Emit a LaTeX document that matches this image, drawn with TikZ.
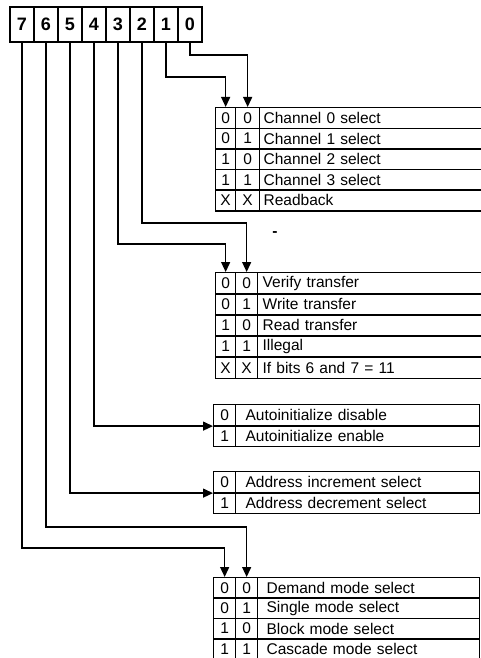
\documentclass[tikz,border=0pt]{standalone}
\usepackage{fontspec}
\setmainfont{Liberation Sans}
\usetikzlibrary{arrows.meta}
\begin{document}
\begin{tikzpicture}[x=1pt, y=-1pt, line width=1.3pt,
  bitcell/.style={draw, minimum width=24pt, minimum height=35pt, inner sep=0pt, outer sep=0pt,
                  font=\fontsize{18}{18}\selectfont\bfseries},
  selcell/.style={draw, anchor=north west, minimum height=20.8pt, inner sep=0pt,
                  font=\fontsize{15.5}{16}\selectfont},
  desccell/.style={selcell, inner xsep=#1, align=left},
  sel/.style={-{Triangle[length=10pt, width=9pt]}}]
  \useasboundingbox (0,0) rectangle (481,658);
  \clip (0,0) rectangle (481,658);

  % mode register bits
  \foreach \bitno [count=\k from 0] in {7,...,0} {
    \node[bitcell] (b\bitno) at ({22+24*\k}, 24.5) {\bitno};
  }

  % bits 0 and 1
  \foreach \i/\sa/\sb/\txt in {1/0/0/{Channel 0 select}, 2/0/1/{Channel 1 select},
                               3/1/0/{Channel 2 select}, 4/1/1/{Channel 3 select},
                               5/X/X/{Readback}} {
    \node[selcell, minimum width=20pt] (t1-\i-a) at (215, {107+20.6*(\i-1)}) {\sa};
    \node[selcell, minimum width=24pt] (t1-\i-b) at (235, {107+20.6*(\i-1)}) {\sb};
    \node[desccell=4pt, text width=232pt] (t1-\i-c) at (259, {107+20.6*(\i-1)}) {\txt};
  }

  % bits 2 and 3
  \foreach \i/\sa/\sb/\txt in {1/0/0/{Verify transfer}, 2/0/1/{Write transfer},
                               3/1/0/{Read transfer}, 4/1/1/{Illegal},
                               5/X/X/{If bits 6 and 7 = 11}} {
    \node[selcell, minimum width=20pt] (t2-\i-a) at (215, {272+21.2*(\i-1)}) {\sa};
    \node[selcell, minimum width=22pt] (t2-\i-b) at (235, {272+21.2*(\i-1)}) {\sb};
    \node[desccell=5pt, text width=230pt] (t2-\i-c) at (257, {272+21.2*(\i-1)}) {\txt};
  }
  \node[font=\fontsize{15.5}{16}\selectfont\bfseries] (dash) at (275,234) {-};

  % bit 4
  \foreach \i/\sa/\txt in {1/0/{Autoinitialize disable}, 2/1/{Autoinitialize enable}} {
    \node[selcell, minimum width=22pt] (t3-\i-a) at (213, {404+21.3*(\i-1)}) {\sa};
    \node[desccell=10pt, text width=224pt] (t3-\i-c) at (235, {404+21.3*(\i-1)}) {\txt};
  }

  % bit 5
  \foreach \i/\sa/\txt in {1/0/{Address increment select}, 2/1/{Address decrement select}} {
    \node[selcell, minimum width=22pt] (t4-\i-a) at (213, {471+21.3*(\i-1)}) {\sa};
    \node[desccell=10pt, text width=224pt] (t4-\i-c) at (235, {471+21.3*(\i-1)}) {\txt};
  }

  % bits 6 and 7
  \foreach \i/\sa/\sb/\txt in {1/0/0/{Demand mode select}, 2/0/1/{Single mode select},
                               3/1/0/{Block mode select}, 4/1/1/{Cascade mode select}} {
    \node[selcell, minimum width=22pt] (t5-\i-a) at (213, {577+20.3*(\i-1)}) {\sa};
    \node[selcell, minimum width=22pt] (t5-\i-b) at (235, {577+20.3*(\i-1)}) {\sb};
    \node[desccell=9pt, text width=204pt] (t5-\i-c) at (257, {577+20.3*(\i-1)}) {\txt};
  }

  % bit lines
  \draw[sel] (b0.south) -- ++(0,13) -| (t1-1-b.north);
  \draw[sel] (b1.south) -- ++(0,35) -| (t1-1-a.north);
  \draw[sel] (b2.south) -- ++(0,181) -| (t2-1-b.north);
  \draw[sel] (b3.south) -- ++(0,202) -| (t2-1-a.north);
  \draw[sel] (b4.south) |- (t3-1-a.south west);
  \draw[sel] (b5.south) |- (t4-1-a.south west);
  \draw[sel] (b6.south) -- ++(0,485) -| (t5-1-b.north);
  \draw[sel] (b7.south) -- ++(0,506) -| (t5-1-a.north);
\end{tikzpicture}
\end{document}
